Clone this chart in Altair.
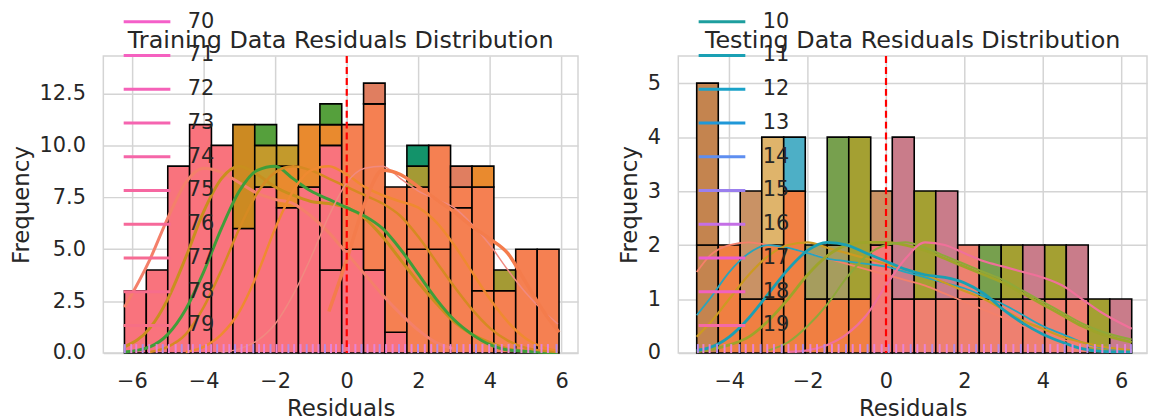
import altair as alt
import pandas as pd

FONT = "DejaVu Sans"
INK = "#262626"

# ---------------- Training panel ----------------
train_edges = [-6.21, -5.60, -5.00, -4.39, -3.78, -3.18, -2.57, -1.96, -1.35, -0.75,
               -0.14, 0.47, 1.07, 1.68, 2.29, 2.90, 3.50, 4.11, 4.72, 5.32, 5.93]
P, O, G, GG, GR, TG, OL, MS, OR2 = ("#f9737d", "#f58052", "#cc8a22", "#c39a2c", "#55a03c",
                                    "#13936a", "#a49a34", "#e07e60", "#e98a2e")
train_segments = [
    [(0, 3, P)], [(0, 4, P)], [(0, 9, P)], [(0, 11, P)], [(0, 10, P)],
    [(0, 6, P), (6, 11, G)],
    [(0, 8, P), (8, 10, GG), (10, 11, GR)],
    [(0, 7, P), (7, 9, OR2), (9, 10, GG)],
    [(0, 8, P), (8, 11, OR2)],
    [(0, 4, P), (4, 10, P), (10, 11, OR2), (11, 12, GR)],
    [(0, 5, P), (5, 11, O)],
    [(0, 4, P), (4, 12, O), (12, 13, MS)],
    [(0, 1, P), (1, 8, O)],
    [(0, 5, O), (5, 8, O), (8, 9, OL), (9, 10, TG)],
    [(0, 5, O), (5, 10, O)],
    [(0, 7, O), (7, 8, O), (8, 9, MS)],
    [(0, 3, O), (3, 8, O), (8, 9, OR2)],
    [(0, 3, O), (3, 4, OL)],
    [(0, 5, O)], [(0, 5, O)],
]
train_kde = [
    ("#f4806a", 3.0,
     [-6.21, -5.5, -5, -4.5, -4, -3.5, -3, -2.5, -2, -1.5, -1, -0.5, 0, 0.5, 1, 1.5, 2, 2.5, 3],
     [2.2, 4.5, 6.5, 8.2, 8.9, 8.7, 8.2, 7.7, 7.4, 7.2, 6.6, 5.8, 4.8, 3.8, 2.8, 1.9, 1.1, 0.5, 0.2]),
    ("#c98f1e", 3.0,
     [-6.21, -5.5, -5, -4.5, -4, -3.5, -3, -2.5, -2, -1.5, -1, -0.5, 0, 0.5, 1, 1.5, 2, 2.5, 3, 3.5, 4, 4.5, 5, 5.9],
     [0.3, 1.2, 2.6, 4.6, 6.8, 8.4, 9.0, 8.6, 8.0, 7.6, 7.3, 7.2, 7.0, 6.5, 5.6, 4.5, 3.4, 2.4, 1.5, 0.9, 0.5, 0.2, 0.1, 0.05]),
    ("#3f9e3a", 3.0,
     [-6.21, -5.5, -5, -4.5, -4, -3.5, -3, -2.5, -2, -1.5, -1, -0.5, 0, 0.5, 1, 1.5, 2, 2.5, 3, 3.5, 4, 4.5, 5.9],
     [0.05, 0.3, 0.9, 2.1, 3.9, 6.0, 7.8, 8.8, 9.0, 8.4, 7.8, 7.4, 7.0, 6.6, 6.0, 5.0, 3.8, 2.6, 1.6, 0.9, 0.4, 0.15, 0.02]),
    ("#d68a22", 2.5,
     [-5.5, -5, -4.5, -4, -3.5, -3, -2.5, -2, -1.5, -1, -0.5, 0, 0.5, 1, 1.5, 2, 2.5, 3, 3.5, 4, 4.5, 5, 5.9],
     [0.05, 0.3, 0.9, 2.2, 4.0, 6.0, 7.7, 8.7, 9.0, 8.8, 8.4, 8.0, 7.6, 7.2, 6.6, 5.6, 4.4, 3.2, 2.1, 1.2, 0.6, 0.25, 0.05]),
    ("#ef8a30", 2.5,
     [-4.5, -4, -3.5, -3, -2.5, -2, -1.5, -1, -0.5, 0, 0.5, 1, 1.5, 2, 2.5, 3, 3.5, 4, 4.5, 5, 5.9],
     [0.05, 0.3, 0.9, 2.0, 3.8, 6.0, 7.8, 8.8, 9.0, 8.6, 8.0, 7.6, 7.3, 7.0, 6.3, 5.2, 3.9, 2.6, 1.5, 0.7, 0.1]),
    ("#f08a80", 1.5,
     [-3.5, -3, -2.5, -2, -1.5, -1, -0.5, 0, 0.5, 1, 1.5, 2, 2.5, 3, 3.5, 4, 4.5, 5, 5.5, 5.9],
     [0.05, 0.2, 0.6, 1.4, 2.8, 4.6, 6.6, 8.2, 8.9, 9.0, 8.4, 7.8, 7.4, 7.0, 6.2, 5.2, 4.0, 2.9, 2.0, 1.4]),
    ("#f47c4c", 3.5,
     [-0.5, 0, 0.5, 1, 1.5, 2, 2.5, 3, 3.5, 4, 4.5, 5, 5.5, 5.93],
     [2.0, 4.5, 7.2, 8.8, 8.6, 8.0, 7.4, 6.8, 6.1, 5.5, 4.8, 3.4, 2.0, 1.0]),
]
train_rug = [-6.2, -6.02, -5.88, -5.7, -5.52, -5.31, -5.14, -4.97, -4.78, -4.61, -4.42, -4.3, -4.1,
             -3.93, -3.79, -3.62, -3.44, -3.28, -3.12, -2.94, -2.79, -2.61, -2.45, -2.31, -2.13,
             -1.96, -1.8, -1.63, -1.47, -1.29, -1.12, -0.95, -0.79, -0.61, -0.44, -0.3, -0.12,
             0.06, 0.24, 0.41, 0.58, 0.77, 0.92, 1.1, 1.28, 1.46, 1.63, 1.81, 1.99, 2.18, 2.36,
             2.53, 2.71, 2.9, 3.08, 3.26, 3.44, 3.61, 3.79, 3.98, 4.16, 4.33, 4.52, 4.69, 4.88,
             5.07, 5.25, 5.44, 5.62, 5.86]
train_legend_labels = ["70", "71", "72", "73", "74", "75", "76", "77", "78", "79"]
train_legend_colors = ["#f45fc9", "#f561c0", "#f562b8", "#f564b0", "#f566a8",
                       "#f667a1", "#f6699a", "#f66b93", "#f76d8c", "#f76f85"]

# ---------------- Testing panel ----------------
test_edges = [-4.83, -4.28, -3.72, -3.17, -2.61, -2.06, -1.50, -0.95, -0.39, 0.16,
              0.72, 1.27, 1.83, 2.38, 2.94, 3.49, 4.05, 4.60, 5.16, 5.71, 6.27]
Br, Or, Tan, LT, Teal, OG, Gn, Ol, Pk, Mv, Sa = ("#c4844f", "#f07f42", "#c99265", "#dfb46b",
                                                "#4dafc6", "#a69d5e", "#77a04e", "#a4a032",
                                                "#f27a78", "#c97c8a", "#ee8070")
test_segments = [
    [(0, 2, Br), (2, 5, Br)],
    [(0, 2, Or)],
    [(0, 1, Or), (1, 3, Tan)],
    [(0, 1, Or), (1, 2, Or), (2, 4, LT)],
    [(0, 3, Or), (3, 4, Teal)],
    [(0, 1, Or), (1, 2, OG)],
    [(0, 1, Or), (1, 2, OG), (2, 4, Gn)],
    [(0, 1, Or), (1, 4, Ol)],
    [(0, 2, Pk), (2, 3, Tan)],
    [(0, 1, Pk), (1, 4, Mv)],
    [(0, 1, Sa), (1, 3, Ol)],
    [(0, 1, Sa), (1, 3, Mv)],
    [(0, 1, Sa), (1, 2, Sa)],
    [(0, 1, Sa), (1, 2, Gn)],
    [(0, 1, Sa), (1, 2, Ol)],
    [(0, 1, Sa), (1, 2, Mv)],
    [(0, 1, Sa), (1, 2, Ol)],
    [(0, 1, Sa), (1, 2, Mv)],
    [(0, 1, Ol)], [(0, 1, Mv)],
]
test_kde = [
    ("#f4806a", 1.8,
     [-4.83, -4.5, -4, -3.5, -3, -2.5, -2, -1.5, -1, -0.5, 0, 0.5, 1, 1.5, 2, 2.5, 3, 3.5, 4, 4.5, 5, 5.5, 6.27],
     [1.5, 1.8, 2.0, 2.05, 2.0, 1.95, 1.85, 1.75, 1.65, 1.55, 1.45, 1.35, 1.25, 1.1, 0.95, 0.8, 0.65, 0.5, 0.35, 0.25, 0.15, 0.1, 0.05]),
    ("#27a5bd", 1.8,
     [-4.83, -4.5, -4, -3.5, -3, -2.5, -2, -1.5, -1, -0.5, 0, 0.5, 1, 1.5, 2, 2.5, 3, 3.5, 4, 4.5, 5, 5.5, 6.27],
     [0.7, 1.0, 1.5, 1.85, 2.0, 1.95, 1.85, 1.75, 1.7, 1.65, 1.6, 1.5, 1.4, 1.3, 1.2, 1.05, 0.9, 0.7, 0.5, 0.35, 0.2, 0.1, 0.05]),
    ("#cc9a22", 2.2,
     [-4.83, -4.5, -4, -3.5, -3, -2.5, -2, -1.5, -1, -0.5, 0, 0.5, 1, 1.5, 2, 2.5, 3, 3.5, 4, 4.5, 5, 5.5, 6.27],
     [0.3, 0.55, 1.0, 1.45, 1.8, 2.0, 2.05, 1.95, 1.85, 1.75, 1.65, 1.55, 1.45, 1.3, 1.15, 1.0, 0.8, 0.6, 0.45, 0.3, 0.2, 0.12, 0.05]),
    ("#9ea42a", 2.8,
     [-4.83, -4, -3.5, -3, -2.5, -2, -1.5, -1, -0.5, 0, 0.5, 1, 1.5, 2, 2.5, 3, 3.5, 4, 4.5, 5, 5.5, 6.27],
     [0.02, 0.15, 0.3, 0.6, 1.0, 1.45, 1.8, 2.0, 2.05, 2.05, 2.0, 1.9, 1.75, 1.6, 1.45, 1.3, 1.1, 0.9, 0.7, 0.5, 0.35, 0.2]),
    ("#8fa83a", 2.0,
     [-3, -2.5, -2, -1.5, -1, -0.5, 0, 0.5, 1, 1.5, 2, 2.5, 3, 3.5, 4, 4.5, 5, 5.5, 6.27],
     [0.05, 0.2, 0.5, 0.9, 1.4, 1.8, 2.0, 2.05, 1.95, 1.8, 1.65, 1.5, 1.35, 1.15, 0.95, 0.75, 0.55, 0.4, 0.25]),
    ("#1b9fb3", 2.8,
     [-4.83, -4.5, -4, -3.5, -3, -2.5, -2, -1.5, -1, -0.5, 0, 0.5, 1, 1.5, 2, 2.5, 3, 3.5, 4, 4.5, 5, 5.5, 6.27],
     [0.05, 0.1, 0.3, 0.65, 1.1, 1.55, 1.9, 2.05, 2.0, 1.85, 1.7, 1.55, 1.45, 1.4, 1.3, 1.1, 0.8, 0.55, 0.35, 0.2, 0.08, 0.03, 0.02]),
    ("#f0709a", 2.2,
     [-2.5, -2, -1.5, -1, -0.5, 0, 0.5, 1, 1.5, 2, 2.5, 3, 3.5, 4, 4.5, 5, 5.5, 6.27],
     [0.02, 0.05, 0.15, 0.35, 0.7, 1.25, 1.75, 2.05, 2.0, 1.85, 1.7, 1.6, 1.5, 1.4, 1.25, 1.0, 0.75, 0.45]),
]
test_rug = [-4.8, -4.66, -4.5, -4.31, -4.12, -3.95, -3.74, -3.58, -3.39, -3.2, -3.03, -2.86,
            -2.66, -2.49, -2.3, -2.12, -1.93, -1.76, -1.57, -1.38, -1.21, -1.02, -0.85, -0.66,
            -0.47, -0.3, -0.11, 0.07, 0.26, 0.44, 0.63, 0.8, 0.99, 1.18, 1.37, 1.55, 1.74, 1.93,
            2.12, 2.3, 2.5, 2.68, 2.87, 3.06, 3.25, 3.44, 3.62, 3.81, 4.0, 4.19, 4.38, 4.56,
            4.76, 4.95, 5.14, 5.33, 5.52, 5.71, 5.9, 6.1, 6.25]
test_legend_labels = ["10", "11", "12", "13", "14", "15", "16", "17", "18", "19"]
test_legend_colors = ["#1d9e9e", "#1aa0b4", "#1aa2c8", "#1f98d8", "#5e8ef0",
                      "#9a7fee", "#c46fe6", "#ec5ccf", "#f162c0", "#f56aa5"]


def seg_frame(edges, segments):
    rows = []
    for i, segs in enumerate(segments):
        for lo, hi, col in segs:
            rows.append({"x0": edges[i], "x1": edges[i + 1], "y0": lo, "y1": hi, "col": col})
    return pd.DataFrame(rows)


def kde_frame(curves):
    rows = []
    for k, (col, w, xs, ys) in enumerate(curves):
        for x, y in zip(xs, ys):
            rows.append({"x": x, "y": y, "curve": k, "col": col, "w": w})
    return pd.DataFrame(rows)


def panel(title, edges, segments, curves, rug, labels, colors, xdom, ydom,
          xticks, yticks, yfmt, width, height):
    xs = alt.Scale(domain=xdom, nice=False, zero=False)
    ys = alt.Scale(domain=ydom, nice=False, zero=False)
    xaxis = alt.Axis(values=xticks, title="Residuals", format="d")
    yaxis = alt.Axis(values=yticks, title="Frequency", format=yfmt)

    bars = alt.Chart(seg_frame(edges, segments)).mark_rect(
        stroke="black", strokeWidth=1.6
    ).encode(
        x=alt.X("x0:Q", scale=xs, axis=xaxis),
        x2="x1:Q",
        y=alt.Y("y0:Q", scale=ys, axis=yaxis),
        y2="y1:Q",
        fill=alt.Fill("col:N", scale=None),
    )
    kde = alt.Chart(kde_frame(curves)).mark_line(interpolate="monotone").encode(
        x="x:Q", y="y:Q", detail="curve:N",
        stroke=alt.Stroke("col:N", scale=None),
        strokeWidth=alt.StrokeWidth("w:Q", scale=None),
    )
    rug_df = pd.DataFrame({"r": rug,
                           "c": ["#e684d6" if i % 3 else "#b68ae6" for i in range(len(rug))]})
    rugs = alt.Chart(rug_df).mark_rule(strokeWidth=2).encode(
        x="r:Q", y=alt.value(height), y2=alt.value(height - 9),
        stroke=alt.Stroke("c:N", scale=None),
    )
    vline = alt.Chart(pd.DataFrame({"z": [0]})).mark_rule(
        color="#ff0000", strokeDash=[7, 4], strokeWidth=2.2
    ).encode(x="z:Q")
    ttl = alt.Chart(pd.DataFrame({"t": [title]})).mark_text(
        fontSize=24, font=FONT, color=INK, baseline="alphabetic", align="center"
    ).encode(text="t:N", x=alt.value(width / 2), y=alt.value(-8.5))
    leg_df = pd.DataFrame({"lab": labels, "lx": [0] * len(labels), "ly": [0] * len(labels)})
    leg = alt.Chart(leg_df).mark_line().encode(
        x="lx:Q", y="ly:Q",
        color=alt.Color("lab:N", scale=alt.Scale(domain=labels, range=colors),
                        legend=alt.Legend(title=None, orient="none", legendX=19, legendY=-51.5,
                                          symbolType="stroke", symbolSize=2209,
                                          symbolStrokeWidth=3, clipHeight=33.6,
                                          rowPadding=0, labelFontSize=21, labelOffset=16,
                                          labelFont=FONT, labelColor=INK, padding=0)),
    )
    return alt.layer(bars, kde, rugs, vline, ttl, leg).properties(width=width, height=height)


left = panel("Training Data Residuals Distribution", train_edges, train_segments, train_kde,
             train_rug, train_legend_labels, train_legend_colors, [-6.8, 6.46], [0, 14.3],
             [-6, -4, -2, 0, 2, 4, 6], [0, 2.5, 5, 7.5, 10, 12.5], ".1f", 478, 299)
right = panel("Testing Data Residuals Distribution", test_edges, test_segments, test_kde,
              test_rug, test_legend_labels, test_legend_colors, [-5.3, 6.66], [0, 5.5],
              [-4, -2, 0, 2, 4, 6], [0, 1, 2, 3, 4, 5], "d", 472, 299)

chart = alt.hconcat(left, right, spacing=38).resolve_scale(
    x="independent", y="independent", color="independent"
).resolve_legend(color="independent").properties(
    padding={"left": 1, "top": -6, "right": 0, "bottom": 0},
    background="white",
).configure_view(
    stroke="#d4d4d4", strokeWidth=1.5
).configure_axis(
    grid=True, gridColor="#d4d4d4", gridWidth=1.5, domain=False, ticks=False,
    labelFont=FONT, labelFontSize=21, labelColor=INK, labelPadding=18,
    titleFont=FONT, titleFontSize=23, titleColor=INK, titleFontWeight="normal",
    titlePadding=6,
)

chart.save("out.html", embed_options={"renderer": "svg", "actions": False})
